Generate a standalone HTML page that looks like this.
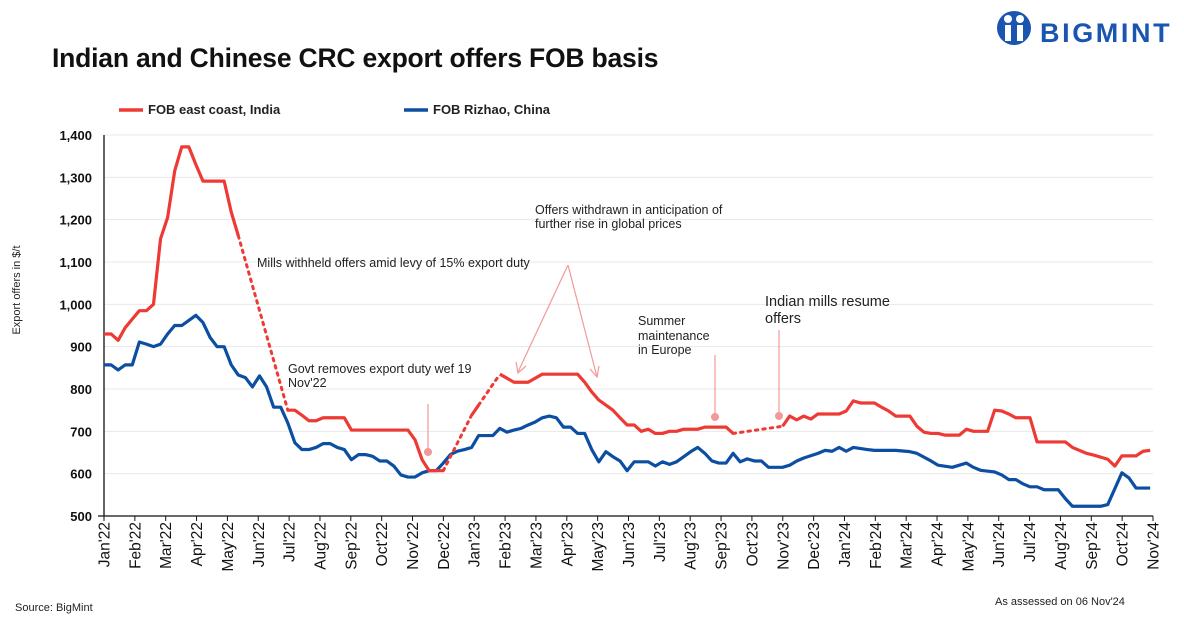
<!DOCTYPE html>
<html><head><meta charset="utf-8"><style>
body{margin:0;background:#fff;font-family:"Liberation Sans",sans-serif}
svg text{font-family:"Liberation Sans",sans-serif}
</style></head><body>
<svg id="c" width="1184" height="624" xmlns="http://www.w3.org/2000/svg">
<text x="52" y="67" font-size="26.5" font-weight="bold" fill="#111" letter-spacing="-0.2">Indian and Chinese CRC export offers FOB basis</text>
<g>
<circle cx="1014" cy="28" r="17" fill="#1a56b0"/>
<circle cx="1008" cy="19" r="4" fill="#fff"/><circle cx="1020" cy="19" r="4" fill="#fff"/>
<rect x="1005" y="25" width="6" height="16" fill="#fff"/><rect x="1017" y="25" width="6" height="16" fill="#fff"/>
<text x="1040" y="42" font-size="27" font-weight="bold" fill="#1a56b0" letter-spacing="2.6">BIGMINT</text>
</g>
<g>
<line x1="119" y1="110" x2="143" y2="110" stroke="#ee3a35" stroke-width="3.5"/>
<text x="148" y="114" font-size="13" font-weight="bold" fill="#222">FOB east coast, India</text>
<line x1="404" y1="110" x2="428" y2="110" stroke="#0b4ea2" stroke-width="3.5"/>
<text x="433" y="114" font-size="13" font-weight="bold" fill="#222">FOB Rizhao, China</text>
</g>
<text transform="translate(20,290) rotate(-90)" text-anchor="middle" font-size="11" fill="#222">Export offers in $/t</text>
<g id="grid"></g><g id="axes"></g><g id="series"></g>
<g font-size="12.5" fill="#222">
<text x="257" y="267">Mills withheld offers amid levy of 15% export duty</text>
<text x="288" y="373">Govt removes export duty wef 19</text><text x="288" y="387">Nov'22</text>
<text x="535" y="214">Offers withdrawn  in anticipation of</text><text x="535" y="228">further rise in global prices</text>
<text x="638" y="325">Summer</text><text x="638" y="340">maintenance</text><text x="638" y="354">in Europe</text>
<text x="765" y="306" font-size="14.5">Indian mills resume</text><text x="765" y="323" font-size="14.5">offers</text>
<g stroke="#f19a98" stroke-width="1.2" fill="none">
<line x1="428" y1="404" x2="428" y2="450"/><line x1="715" y1="355" x2="715" y2="415"/><line x1="779" y1="330" x2="779" y2="414"/>
<line x1="568" y1="265" x2="518" y2="372"/><line x1="568" y1="265" x2="597" y2="377"/>
<polyline points="516,362 518,373 526,366"/><polyline points="590,369 597,377 599,366"/>
</g>
<g fill="#f19a98"><circle cx="428" cy="452" r="4"/><circle cx="715" cy="417" r="4"/><circle cx="779" cy="416" r="4"/></g>
</g>
<text x="15" y="611" font-size="11" fill="#222">Source: BigMint</text>
<text x="995" y="605" font-size="11" fill="#222">As assessed on 06 Nov'24</text>
</svg>
<script>
const months=["Jan'22","Feb'22","Mar'22","Apr'22","May'22","Jun'22","Jul'22","Aug'22","Sep'22","Oct'22","Nov'22","Dec'22","Jan'23","Feb'23","Mar'23","Apr'23","May'23","Jun'23","Jul'23","Aug'23","Sep'23","Oct'23","Nov'23","Dec'23","Jan'24","Feb'24","Mar'24","Apr'24","May'24","Jun'24","Jul'24","Aug'24","Sep'24","Oct'24","Nov'24"];
const yTicks=[500,600,700,800,900,1000,1100,1200,1300,1400];
const indiaWeeks=[0,1,2,3,4,5,6,7,8,9,10,11,12,13,14,17,18,19,26,27,28,29,30,31,34,35,43,44,45,46,48,52,53,56,58,60,62,67,68,69,70,72,73,74,75,76,77,78,79,80,81,82,84,85,88,89,96,97,98,99,100,101,104,105,106,107,109,110,111,112,114,115,116,117,118,119,121,122,123,125,126,127,128,129,131,132,136,137,139,140,142,143,144,146,147,148];
const indiaValues=[930,930,915,945,965,985,985,1000,1155,1205,1315,1372,1372,1330,1291,1291,1218,1162,750,750,738,725,725,732,732,703,703,680,633,607,607,738,762,835,816,816,835,835,816,793,774,750,732,715,715,700,705,695,695,700,700,705,705,710,710,695,712,736,727,736,729,741,741,748,772,767,767,757,748,736,736,712,698,695,695,691,691,705,700,700,750,748,741,732,732,675,675,662,648,644,634,618,642,642,653,655];
const indiaDottedGaps=[[19,26],[48,52],[53,56],[89,96]];
const chinaWeeks=[0,1,2,3,4,5,6,7,8,9,10,11,12,13,14,15,16,17,18,19,20,21,22,23,24,25,26,27,28,29,30,31,32,33,34,35,36,37,38,39,40,41,42,43,44,45,46,47,48,49,50,51,52,53,55,56,57,58,59,60,61,62,63,64,65,66,67,68,69,70,71,72,73,74,75,77,78,79,80,81,83,84,85,86,87,88,89,90,91,92,93,94,96,97,98,99,101,102,103,104,105,106,108,109,112,114,115,117,118,120,121,122,123,124,126,127,128,129,130,131,132,133,135,136,137,141,142,144,145,146,148];
const chinaValues=[857,857,845,857,857,911,906,900,906,930,950,950,962,974,957,922,900,900,857,833,827,805,831,805,757,757,720,673,657,657,662,671,671,662,657,633,645,645,641,630,630,618,597,592,592,602,607,607,625,645,653,657,662,690,690,707,698,703,707,715,722,732,736,732,710,710,695,695,657,628,652,640,630,607,628,628,618,628,622,628,652,662,648,630,625,625,648,628,635,630,630,615,615,620,630,637,648,655,653,662,653,662,657,655,655,652,648,630,620,615,620,625,615,608,604,597,586,586,576,569,569,562,562,541,523,523,527,602,590,566,566];
const NS="http://www.w3.org/2000/svg";
const X0=104,X1=1153,Y0=516,Y1=135,NWEEK=148.4;
const xW=w=>X0+w*(X1-X0)/NWEEK;
const xM=m=>X0+m*(X1-X0)/(months.length-1);
const yV=v=>Y0-(v-500)*(Y0-Y1)/900;
function mk(t,a,p){const e=document.createElementNS(NS,t);for(const k in a)e.setAttribute(k,a[k]);p.appendChild(e);return e;}
const grid=document.getElementById('grid'),axes=document.getElementById('axes'),ser=document.getElementById('series');
yTicks.forEach(v=>{
 if(v>500){const g=mk('line',{x1:X0,x2:X1,y1:yV(v),y2:yV(v),stroke:'#e8e8e8','stroke-width':1},grid);
 
 }
 const t=mk('text',{x:92,y:yV(v)+5,'text-anchor':'end','font-size':13,'font-weight':'bold',fill:'#111'},axes);
 t.textContent=v.toLocaleString('en-US');
 
 
});
const ya=mk('line',{x1:X0,x2:X0,y1:Y1,y2:Y0,stroke:'#111','stroke-width':1.3},axes);


const xa=mk('line',{x1:X0-6,x2:X1,y1:Y0,y2:Y0,stroke:'#111','stroke-width':1.3},axes);


months.forEach((m,i)=>{
 const x=xM(i);
 mk('line',{x1:x,x2:x,y1:Y0,y2:Y0+5,stroke:'#111'},axes);
 const t=mk('text',{transform:`translate(${x+5.5},${Y0+6}) rotate(-90)`,'text-anchor':'end','font-size':15.5,fill:'#111'},axes);
 t.textContent=m;
 
 
});
function draw(weeks,vals,color,gaps,name){
 const g=mk('g',{},ser);
 
 
 let seg=[];
 const flush=()=>{if(seg.length>1)mk('polyline',{points:seg.join(' '),fill:'none',stroke:color,'stroke-width':3.2,'stroke-linejoin':'round'},g);seg=[];};
 for(let i=0;i<weeks.length;i++){
  if(i>0&&gaps.some(p=>p[0]===weeks[i-1]&&p[1]===weeks[i])){
   flush();
   mk('line',{x1:xW(weeks[i-1]),y1:yV(vals[i-1]),x2:xW(weeks[i]),y2:yV(vals[i]),stroke:color,'stroke-width':3,'stroke-dasharray':'2.5 5','stroke-linecap':'round'},g);
  }
  seg.push(xW(weeks[i])+','+yV(vals[i]));
 }
 flush();
}
draw(chinaWeeks,chinaValues,'#0b4ea2',[],'china-series');
draw(indiaWeeks,indiaValues,'#ee3a35',indiaDottedGaps,'india-series');
</script>
</body></html>
